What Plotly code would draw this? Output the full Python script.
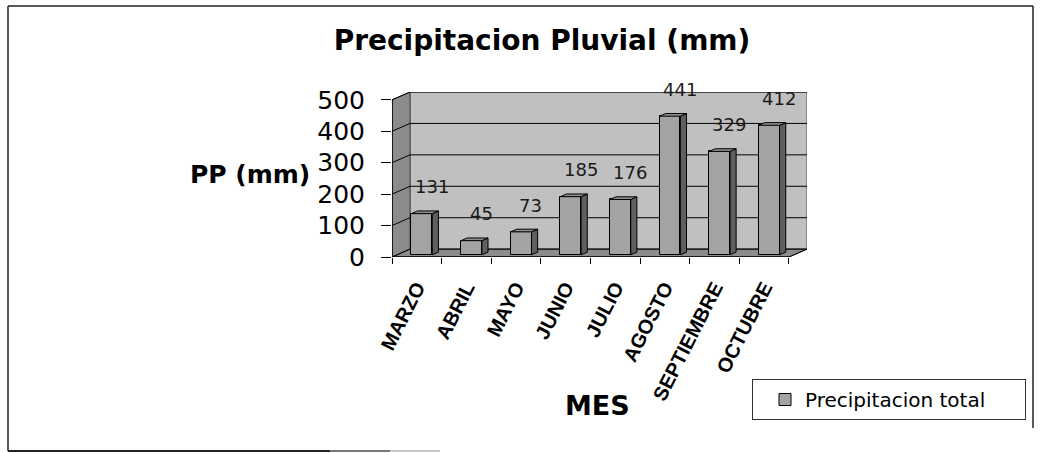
import plotly.graph_objects as go

# ---- data -------------------------------------------------------------
MONTHS = ["MARZO", "ABRIL", "MAYO", "JUNIO", "JULIO", "AGOSTO", "SEPTIEMBRE", "OCTUBRE"]
PRECIP = [131, 45, 73, 185, 176, 441, 329, 412]
Y_TICKS = [0, 100, 200, 300, 400, 500]
SERIES_NAME = "Precipitacion total"

# ---- pseudo-3D geometry (in axis units) -------------------------------
DEPTH_X = 0.363     # back wall shift to the right (category units)
DEPTH_Y = 25        # back wall shift upwards (mm units)
BAR_FRONT = 0.28    # depth fraction where bar front faces sit
BAR_BACK = 0.62     # depth fraction where bar back faces sit
BAR_W = 0.42
LABEL_DX = 0.3

WALL = "#c0c0c0"
SIDE_WALL = "#8c8c8c"
FLOOR = "#8c8c8c"
BAR_FRONT_C = "#a3a3a3"
BAR_SIDE_C = "#5f5f5f"
BAR_TOP_C = "#8e8e8e"

W, H = 1043, 453
PX_L, PX_R, PX_T, PX_B = 392, 807, 92, 257


def px(x):
    return (x - PX_L) / (PX_R - PX_L)


def py(y):
    return (PX_B - y) / (PX_B - PX_T)


n = len(MONTHS)
idx = list(range(n))
x0, x1 = -0.5, n - 0.5
ymax = Y_TICKS[-1]

fig = go.Figure()

# front faces of the columns
fsx = BAR_FRONT * DEPTH_X
base = BAR_FRONT * DEPTH_Y
fig.add_trace(go.Bar(
    x=[i + fsx for i in idx], y=PRECIP, base=base, width=BAR_W,
    marker=dict(color=BAR_FRONT_C, line=dict(color="black", width=1)),
    name=SERIES_NAME, showlegend=True, hoverinfo="skip",
))

# side and top faces of the columns
ddx = (BAR_BACK - BAR_FRONT) * DEPTH_X
ddy = (BAR_BACK - BAR_FRONT) * DEPTH_Y
side_x, side_y, top_x, top_y = [], [], [], []
for i, v in zip(idx, PRECIP):
    xl = i + fsx - BAR_W / 2
    xr = i + fsx + BAR_W / 2
    bot = base
    top = base + v
    side_x += [xr, xr + ddx, xr + ddx, xr, xr, None]
    side_y += [bot, bot + ddy, top + ddy, top, bot, None]
    top_x += [xl, xr, xr + ddx, xl + ddx, xl, None]
    top_y += [top, top, top + ddy, top + ddy, top, None]

fig.add_trace(go.Scatter(x=side_x, y=side_y, mode="lines", fill="toself",
                         fillcolor=BAR_SIDE_C, line=dict(color="black", width=1),
                         showlegend=False, hoverinfo="skip"))
fig.add_trace(go.Scatter(x=top_x, y=top_y, mode="lines", fill="toself",
                         fillcolor=BAR_TOP_C, line=dict(color="black", width=1),
                         showlegend=False, hoverinfo="skip"))

# ---- walls, floor and gridlines ---------------------------------------
shapes = []
bx0, bx1 = x0 + DEPTH_X, x1 + DEPTH_X
shapes.append(dict(type="rect", xref="x", yref="y", x0=bx0, x1=bx1, y0=DEPTH_Y, y1=ymax + DEPTH_Y,
                   fillcolor=WALL, line=dict(color="#555555", width=1), layer="below"))
shapes.append(dict(type="path", xref="x", yref="y",
                   path=f"M{x0},0 L{x0},{ymax} L{bx0},{ymax + DEPTH_Y} L{bx0},{DEPTH_Y} Z",
                   fillcolor=SIDE_WALL, line=dict(color="#444444", width=1), layer="below"))
shapes.append(dict(type="path", xref="x", yref="y",
                   path=f"M{x0},0 L{x1},0 L{bx1},{DEPTH_Y} L{bx0},{DEPTH_Y} Z",
                   fillcolor=FLOOR, line=dict(color="#444444", width=1), layer="below"))
for t in Y_TICKS:
    shapes.append(dict(type="line", xref="x", yref="y", x0=x0, y0=t, x1=bx0, y1=t + DEPTH_Y,
                       line=dict(color="black", width=1), layer="below"))
    shapes.append(dict(type="line", xref="x", yref="y", x0=bx0, y0=t + DEPTH_Y, x1=bx1, y1=t + DEPTH_Y,
                       line=dict(color="black", width=1), layer="below"))
# front axis edges
shapes.append(dict(type="line", xref="x", yref="y", x0=x0, y0=0, x1=x0, y1=ymax,
                   line=dict(color="black", width=1.5)))
shapes.append(dict(type="line", xref="x", yref="y", x0=x0, y0=0, x1=x1, y1=0,
                   line=dict(color="black", width=1.5)))
shapes.append(dict(type="line", xref="x", yref="y", x0=x1, y0=0, x1=bx1, y1=DEPTH_Y,
                   line=dict(color="black", width=1)))

# outer chart frame
frame = "#222222"
shapes += [
    dict(type="line", xref="paper", yref="paper", x0=px(8), y0=py(6), x1=px(1033), y1=py(6),
         line=dict(color=frame, width=1.5)),
    dict(type="line", xref="paper", yref="paper", x0=px(8), y0=py(6), x1=px(8), y1=py(451),
         line=dict(color=frame, width=1.5)),
    dict(type="line", xref="paper", yref="paper", x0=px(1033), y0=py(6), x1=px(1033), y1=py(428),
         line=dict(color=frame, width=1.5)),
    dict(type="line", xref="paper", yref="paper", x0=px(8), y0=py(451), x1=px(330), y1=py(451),
         line=dict(color=frame, width=2)),
    dict(type="line", xref="paper", yref="paper", x0=px(330), y0=py(451), x1=px(390), y1=py(451),
         line=dict(color="#777777", width=2)),
    dict(type="line", xref="paper", yref="paper", x0=px(390), y0=py(451), x1=px(440), y1=py(451),
         line=dict(color="#c8c8c8", width=2)),
]

# ---- value labels and titles ------------------------------------------
annotations = []
for i, v in zip(idx, PRECIP):
    annotations.append(dict(x=i + LABEL_DX, y=v, xref="x", yref="y", text=str(v),
                            showarrow=False, yshift=29, xanchor="center", yanchor="middle",
                            font=dict(family="DejaVu Sans", size=18, color="#1a1a1a")))
annotations.append(dict(x=px(250), y=py(174), xref="paper", yref="paper", text="<b>PP (mm)</b>",
                        showarrow=False, xanchor="center", yanchor="middle",
                        font=dict(family="DejaVu Sans", size=25, color="black")))
annotations.append(dict(x=px(597), y=py(405), xref="paper", yref="paper", text="<b>MES</b>",
                        showarrow=False, xanchor="center", yanchor="middle",
                        font=dict(family="DejaVu Sans", size=27, color="black")))

fig.update_layout(
    width=W, height=H,
    margin=dict(l=PX_L, r=W - PX_R, t=PX_T, b=H - PX_B, autoexpand=False),
    paper_bgcolor="white", plot_bgcolor="white",
    title=dict(text="<b>Precipitacion Pluvial (mm)</b>", x=542 / W, xanchor="center",
               y=1 - 40 / H, yanchor="middle",
               font=dict(family="DejaVu Sans", size=28, color="black")),
    shapes=shapes, annotations=annotations,
    bargap=0,
    legend=dict(x=px(752), y=py(379), xanchor="left", yanchor="top",
                orientation="h",
                bordercolor="#333333", borderwidth=1, bgcolor="white",
                indentation=12, entrywidth=215, entrywidthmode="pixels",
                font=dict(family="DejaVu Sans", size=20, color="black")),
    xaxis=dict(range=[x0, bx1], tickvals=idx, ticktext=MONTHS, tickangle=-63,
               ticks="", showgrid=False, zeroline=False, showline=False,
               ticklabelstandoff=14,
               tickfont=dict(family="Liberation Sans", size=20, color="black", weight="bold"),
               minor=dict(tickvals=[i - 0.5 for i in range(n + 1)], ticks="outside",
                          ticklen=6, tickcolor="black", tickwidth=1, showgrid=False),
               fixedrange=True),
    yaxis=dict(range=[0, ymax + DEPTH_Y], tickvals=Y_TICKS, ticks="outside", ticklen=10,
               tickcolor="black", tickwidth=1, showgrid=False, zeroline=False, showline=False,
               ticklabelstandoff=11,
               tickfont=dict(family="DejaVu Sans", size=25, color="black"),
               fixedrange=True),
)

fig.write_html("out.html")
